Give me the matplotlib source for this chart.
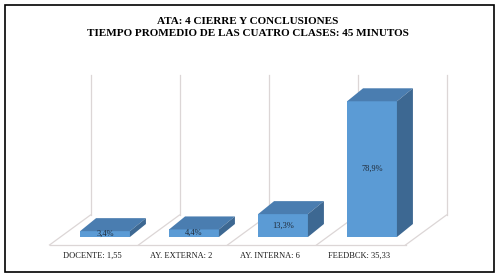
import matplotlib
matplotlib.use("Agg")
import matplotlib.pyplot as plt
from matplotlib.patches import Polygon, Rectangle

# ---- data ----
categories = ["DOCENTE: 1,55", "AY. EXTERNA: 2", "AY. INTERNA: 6", "FEEDBCK: 35,33"]
percent = [3.4, 4.4, 13.3, 78.9]
bar_labels = ["3,4%", "4,4%", "13,3%", "78,9%"]
title_lines = ["ATA: 4 CIERRE Y CONCLUSIONES",
               "TIEMPO PROMEDIO DE LAS CUATRO CLASES: 45 MINUTOS"]

# ---- layout ----
FW, FH, DPI = 500, 277, 100
YMAX = 80
WALL_TOP = 81.5
BAR_W = 0.56
BAR_DEPTH = (16, 13)        # px
FLOOR_FRONT = (-11, -8)     # px
FLOOR_BACK = (30, 22)       # px

front_col = "#5b9bd5"
top_col = "#4a7db0"
side_col = "#3d6892"
grid_col = "#dcd6d6"
serif = "Liberation Serif"

fig = plt.figure(figsize=(FW / DPI, FH / DPI), dpi=DPI)
L, B = 60.5 / FW, 40 / FH
W = 356 / FW
H = YMAX * 1.72 / FH
ax = fig.add_axes([L, B, W, H])
n = len(categories)
ax.set_xlim(-0.5, n - 0.5)
ax.set_ylim(0, YMAX)
ax.axis("off")

ppx = W * FW / n
ppy = H * FH / YMAX


def off(x, y, d):
    return (x + d[0] / ppx, y + d[1] / ppy)


# floor and walls
x0, x1 = -0.5, n - 0.5
ax.plot(*zip(off(x0, 0, FLOOR_FRONT), off(x1, 0, FLOOR_FRONT)),
        color=grid_col, lw=0.9, clip_on=False, zorder=1)
for k in range(n + 1):
    xb = k - 0.5
    ax.plot(*zip(off(xb, 0, FLOOR_FRONT), off(xb, 0, FLOOR_BACK)),
            color=grid_col, lw=0.9, clip_on=False, zorder=1)
    ax.plot(*zip(off(xb, 0, FLOOR_BACK), off(xb, WALL_TOP, FLOOR_BACK)),
            color=grid_col, lw=0.9, clip_on=False, zorder=1)

# bars
for i, v in enumerate(percent):
    l, r = i - BAR_W / 2, i + BAR_W / 2
    front = Rectangle((l, 0), BAR_W, v, facecolor=front_col, edgecolor="none",
                      clip_on=False, zorder=3)
    top = Polygon([(l, v), (r, v), off(r, v, BAR_DEPTH), off(l, v, BAR_DEPTH)],
                  closed=True, facecolor=top_col, edgecolor="none", clip_on=False, zorder=3)
    side = Polygon([(r, 0), (r, v), off(r, v, BAR_DEPTH), off(r, 0, BAR_DEPTH)],
                   closed=True, facecolor=side_col, edgecolor="none", clip_on=False, zorder=3)
    for p in (front, top, side):
        ax.add_patch(p)
    ax.text(i, v / 2, bar_labels[i], ha="center", va="center", fontsize=6,
            family=serif, color="#1f2a38", zorder=4)
    lx, ly = off(i, 0, (-13, -19))
    ax.text(lx, ly, categories[i], ha="center", va="center", fontsize=6,
            family=serif, color="#1a1a1a", clip_on=False)

# titles
fig.text(0.496, 1 - 21 / FH, title_lines[0], ha="center", va="center",
         fontsize=8, fontweight="bold", family=serif)
fig.text(0.496, 1 - 33 / FH, title_lines[1], ha="center", va="center",
         fontsize=8, fontweight="bold", family=serif)

# border
fig.patches.append(Rectangle((5 / FW, 5 / FH), 489 / FW, 267 / FH,
                             transform=fig.transFigure, fill=False,
                             edgecolor="black", lw=1.2))

fig.savefig("out.png", dpi=DPI)
